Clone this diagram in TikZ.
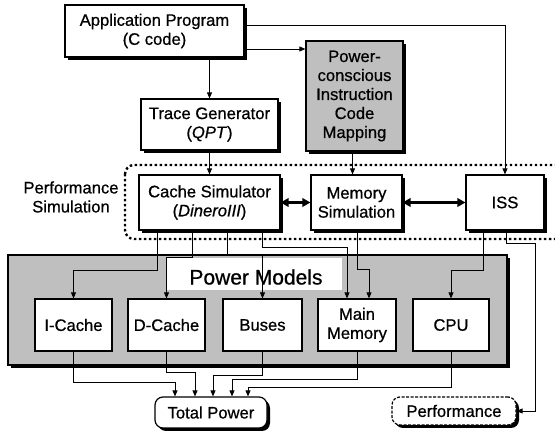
\documentclass[tikz,border=0pt]{standalone}
\usepackage{fontspec}
\setmainfont{Liberation Sans}[UprightFeatures={FakeBold=0.7},ItalicFeatures={FakeBold=0.7}]
\usetikzlibrary{arrows.meta,shadows}
\begin{document}
\begin{tikzpicture}[x=1pt,y=-1pt,
  font=\fontsize{16.6}{19}\selectfont,
  shade/.style={drop shadow={shadow xshift=3pt,shadow yshift=-3pt,fill=black,opacity=1}},
  box/.style={draw,line width=1.2pt,fill=white,inner sep=0pt,align=center,shade},
  gbox/.style={box,fill=black!25},
  pbox/.style={draw,line width=1.2pt,fill=white,inner sep=0pt,align=center},
  rbox/.style={box,rounded corners=8pt},
  conn/.style={line width=0.8pt},
  arr/.style={conn,-{Triangle[length=6pt,width=5pt]}},
  dbl/.style={line width=2.8pt,{Triangle[length=8pt,width=8.5pt]}-{Triangle[length=8pt,width=8.5pt]}},
  perfsim/.style={line width=2.4pt,dash pattern=on 2.4pt off 2.6pt,rounded corners=9pt}
]
\useasboundingbox (0,0) rectangle (555,438);
\begin{scope}
\clip (0,0) rectangle (555,438);
% performance simulation frame
\draw[perfsim] (125,165) rectangle (575,239);
\end{scope}
\node[align=center] (perflabel) at (71,197) {Performance\\Simulation};

% top boxes
\node[box,minimum width=179pt,minimum height=52pt] (app) at (154.5,31) {Application Program\\(C code)};
\node[box,minimum width=137pt,minimum height=51pt] (trace) at (209.5,124.5) {Trace Generator\\(\textit{QPT})};
\node[gbox,minimum width=97pt,minimum height=110pt] (pc) at (354.5,96) {Power-\\conscious\\Instruction\\Code\\Mapping};

% simulation boxes
\node[box,minimum width=141pt,minimum height=55pt] (cache) at (209.5,202.5) {Cache Simulator\\(\textit{DineroIII})};
\node[box,minimum width=91pt,minimum height=55pt] (mem) at (356.5,202.5) {Memory\\Simulation};
\node[box,minimum width=78pt,minimum height=55pt] (iss) at (505,202.5) {ISS};

% power models
\node[gbox,minimum width=499pt,minimum height=110pt] (pm) at (257.5,310) {};
\fill[white] (167,258) rectangle (342,290);
\node[font=\fontsize{21}{24}\selectfont] (pmlabel) at (256,277) {Power Models};
\node[pbox,minimum width=77pt,minimum height=52pt] (icache) at (73.5,325) {I-Cache};
\node[pbox,minimum width=77pt,minimum height=52pt] (dcache) at (166.5,325) {D-Cache};
\node[pbox,minimum width=79pt,minimum height=52pt] (buses) at (262.5,325) {Buses};
\node[pbox,minimum width=78pt,minimum height=52pt] (mainmem) at (357,325) {Main\\Memory};
\node[pbox,minimum width=76pt,minimum height=52pt] (cpu) at (451,325) {CPU};

% outputs
\node[rbox,minimum width=112pt,minimum height=31pt] (total) at (211,412.5) {Total Power};
\node[rbox,dash pattern=on 3pt off 1.5pt,minimum width=124pt,minimum height=28pt] (perf) at (454,411) {Performance};

% connectors top
\coordinate (apc) at ([yshift=-18pt]app.east);
\coordinate (apiss) at ([yshift=6pt]app.east);
\draw[arr] (app.south -| trace.north) -- (trace.north);
\draw[arr] (apc) -- (apc -| pc.west);
\draw[arr] (apiss) -| (iss.north);
\draw[arr] (trace.south) -- (trace.south |- cache.north);
\coordinate (pcm) at ([xshift=-2pt]pc.south);
\draw[arr] (pcm) -- (pcm |- mem.north);
\draw[dbl] (cache.east) -- (mem.west);
\draw[dbl] (mem.east) -- (iss.west);

% cache simulator to power models
\draw[arr] ([xshift=-52.5pt]cache.south) -- ++(0,40) -| (icache.north);
\draw[arr] ([xshift=-17.5pt]cache.south) -- ++(0,27) -| (dcache.north);
\draw[arr] ([xshift=17.5pt]cache.south) -- ++(0,25) -| (buses.north);
\draw[arr] ([xshift=52.5pt]cache.south) -- ++(0,17) -| ([xshift=-10pt]mainmem.north);
\draw[arr] ([xshift=0.5pt]mem.south) -- ++(0,39) -| ([xshift=12pt]mainmem.north);
\draw[arr] ([xshift=-22pt]iss.south) -- ++(0,40) -| (cpu.north);
\draw[arr] ([xshift=1pt]iss.south) -- ++(0,13) -- ++(29,0) |- (perf.east);

% power models to total power
\draw[arr] (icache.south) -- ++(0,31) -| ([xshift=-36pt]total.north);
\draw[arr] (dcache.south) -- ++(0,21) -| ([xshift=-16pt]total.north);
\draw[arr] (buses.south) -- ++(0,24) -| ([xshift=2pt]total.north);
\draw[arr] (mainmem.south) -- ++(0,28) -| ([xshift=21pt]total.north);
\draw[arr] (cpu.south) -- ++(0,36) -| ([xshift=37pt]total.north);
\end{tikzpicture}
\end{document}
